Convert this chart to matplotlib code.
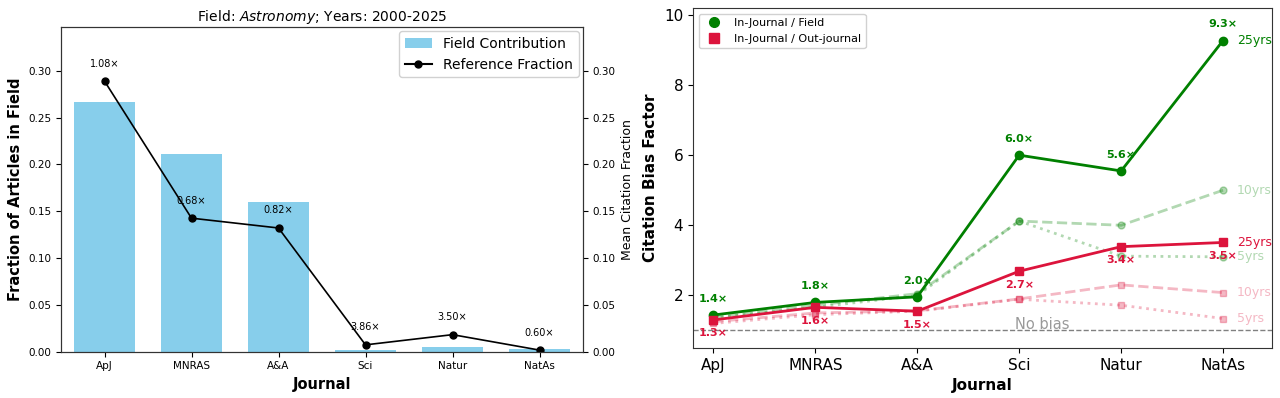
import matplotlib
matplotlib.use("Agg")
import matplotlib.pyplot as plt
import numpy as np
from matplotlib.lines import Line2D
from matplotlib.patches import Patch

journals = ["ApJ", "MNRAS", "A&A", "Sci", "Natur", "NatAs"]
field_contribution = [0.267, 0.211, 0.160, 0.0018, 0.0053, 0.0032]
reference_fraction = [0.289, 0.1425, 0.132, 0.0071, 0.018, 0.0015]
ratio_labels = ["1.08×", "0.68×", "0.82×", "3.86×", "3.50×", "0.60×"]

field_25 = [1.44, 1.80, 1.96, 6.00, 5.55, 9.27]
field_10 = [1.38, 1.72, 2.05, 4.12, 4.00, 5.00]
field_5 = [1.36, 1.66, 2.00, 4.12, 3.12, 3.10]
out_25 = [1.30, 1.66, 1.55, 2.69, 3.39, 3.51]
out_10 = [1.25, 1.50, 1.56, 1.90, 2.30, 2.08]
out_5 = [1.20, 1.45, 1.55, 1.89, 1.72, 1.34]
field_25_labels = ["1.4×", "1.8×", "2.0×", "6.0×", "5.6×", "9.3×"]
out_25_labels = ["1.3×", "1.6×", "1.5×", "2.7×", "3.4×", "3.5×"]

W, H = 1280, 398
fig = plt.figure(figsize=(W / 100, H / 100), dpi=100)

# ---------------- Left panel ----------------
ax1 = fig.add_axes([61 / W, (H - 351.5) / H, (583 - 61) / W, (351.5 - 27) / H])
x = np.arange(len(journals))
ax1.bar(x, field_contribution, width=0.7, color="skyblue")
ax1.set_xlim(-0.5, 5.5)
ymax = max(reference_fraction) * 1.2
ax1.set_ylim(0, ymax)
ax1.set_xticks(x)
ax1.set_xticklabels(journals, fontsize=7.5)
ax1.tick_params(axis="y", labelsize=7.5)
ax1.set_ylabel("Fraction of Articles in Field", fontsize=10.5, fontweight="bold")
ax1.set_xlabel("Journal", fontsize=10.5, fontweight="bold")
ax1.set_title("Field: $\\it{Astronomy}$; Years: 2000-2025", fontsize=10, pad=4)

ax2 = ax1.twinx()
ax2.plot(x, reference_fraction, color="black", marker="o", markersize=5, linewidth=1.2)
ax2.set_ylim(0, ymax)
ax2.tick_params(axis="y", labelsize=7.5)
ax2.set_ylabel("Mean Citation Fraction", fontsize=9)
for xi, yi, lab in zip(x, reference_fraction, ratio_labels):
    ax2.annotate(lab, (xi, yi), xytext=(0, 9), textcoords="offset points",
                 ha="center", va="bottom", fontsize=7)

for a in (ax1, ax2):
    for s in a.spines.values():
        s.set_color("#333333")

handles = [Patch(facecolor="skyblue", label="Field Contribution"),
           Line2D([0], [0], color="black", marker="o", markersize=5, label="Reference Fraction")]
ax1.legend(handles=handles, loc="upper right", fontsize=10, framealpha=0.9,
           borderaxespad=0.3)

# ---------------- Right panel ----------------
ax3 = fig.add_axes([693 / W, (H - 348) / H, (1272 - 693) / W, (348 - 8) / H])
green = "green"
red = "crimson"

ax3.axhline(1.0, color="gray", linestyle="--", linewidth=1)
ax3.text(2.96, 0.97, "No bias", color="gray", fontsize=10.5, ha="left", va="bottom", alpha=0.8)

ax3.plot(x, field_5, color=green, linestyle=":", marker="o", markersize=5, linewidth=2, alpha=0.3)
ax3.plot(x, field_10, color=green, linestyle="--", marker="o", markersize=5, linewidth=2, alpha=0.3)
ax3.plot(x, out_5, color=red, linestyle=":", marker="s", markersize=5, linewidth=2, alpha=0.3)
ax3.plot(x, out_10, color=red, linestyle="--", marker="s", markersize=5, linewidth=2, alpha=0.3)
ax3.plot(x, field_25, color=green, linestyle="-", marker="o", markersize=6, linewidth=2)
ax3.plot(x, out_25, color=red, linestyle="-", marker="s", markersize=6, linewidth=2)

for xi, yi, lab in zip(x, field_25, field_25_labels):
    ax3.annotate(lab, (xi, yi), xytext=(0, 8), textcoords="offset points",
                 ha="center", va="bottom", fontsize=8, fontweight="bold", color=green)
for xi, yi, lab in zip(x, out_25, out_25_labels):
    ax3.annotate(lab, (xi, yi), xytext=(0, -6), textcoords="offset points",
                 ha="center", va="top", fontsize=8, fontweight="bold", color=red)

end_labels = [(field_25[-1], "25yrs", green, 1.0), (field_10[-1], "10yrs", green, 0.3),
              (field_5[-1], "5yrs", green, 0.3), (out_25[-1], "25yrs", red, 1.0),
              (out_10[-1], "10yrs", red, 0.3), (out_5[-1], "5yrs", red, 0.3)]
for yv, lab, c, al in end_labels:
    ax3.annotate(lab, (5, yv), xytext=(10, 0), textcoords="offset points",
                 ha="left", va="center", fontsize=9, color=c, alpha=al)

ax3.set_xlim(-0.2, 5.48)
ax3.set_ylim(0.5, max(field_25) * 1.1)
ax3.set_xticks(x)
ax3.set_xticklabels(journals, fontsize=11)
ax3.tick_params(axis="y", labelsize=11)
ax3.set_ylabel("Citation Bias Factor", fontsize=11, fontweight="bold")
ax3.set_xlabel("Journal", fontsize=11, fontweight="bold")
for s in ax3.spines.values():
    s.set_color("#333333")

handles2 = [Line2D([0], [0], color=green, marker="o", linestyle="none", markersize=7, label="In-Journal / Field"),
            Line2D([0], [0], color=red, marker="s", linestyle="none", markersize=7, label="In-Journal / Out-journal")]
ax3.legend(handles=handles2, loc="upper left", fontsize=8, framealpha=0.9)

fig.savefig("out.png", dpi=100)
